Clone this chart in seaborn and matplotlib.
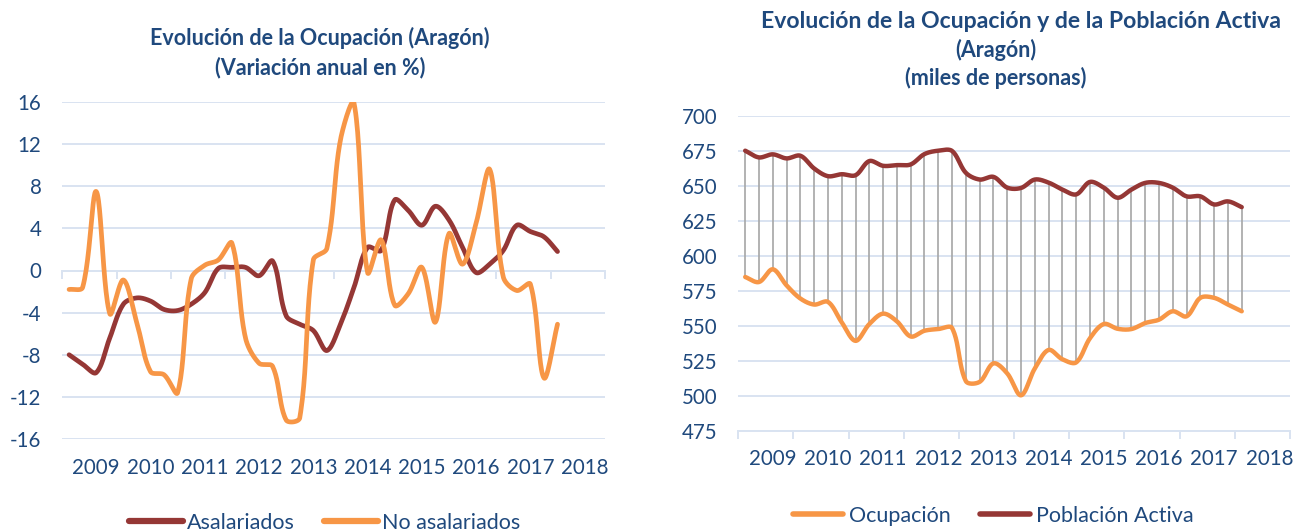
import numpy as np
import pandas as pd
import matplotlib
matplotlib.use("Agg")
import matplotlib.pyplot as plt
import seaborn as sns

# ---------------- data (quarterly) ----------------
years = ['2009', '2010', '2011', '2012', '2013', '2014', '2015', '2016', '2017', '2018']

asalariados = [-8.0, -8.9, -9.7, -6.4, -3.2, -2.6, -2.9, -3.7, -3.8, -3.2,
               -2.1, 0.2, 0.3, 0.3, -0.5, 0.9, -4.3, -5.1, -5.7, -7.6,
               -5.1, -1.6, 2.2, 1.9, 6.7, 5.7, 4.3, 6.1, 4.8, 2.2,
               -0.2, 0.6, 1.9, 4.3, 3.7, 3.2, 1.8]
no_asalariados = [-1.8, -1.6, 7.5, -4.1, -0.9, -5.0, -9.6, -9.9, -11.6, -0.8,
                  0.5, 1.0, 2.6, -6.4, -8.8, -9.1, -14.2, -14.0, 1.0, 2.1,
                  12.4, 15.9, -0.2, 2.9, -3.3, -2.2, 0.3, -4.9, 3.5, 0.6,
                  4.5, 9.6, -0.6, -1.9, -1.3, -10.2, -5.1]

ocupacion = [584.8, 581.2, 590.3, 578.8, 569.4, 565.1, 567.0, 552.4, 539.2, 551.2,
             558.6, 553.1, 542.3, 546.4, 547.6, 548.3, 510.4, 509.9, 523.1, 515.9,
             500.3, 519.5, 532.7, 526.0, 523.8, 541.1, 551.2, 547.8, 547.6, 551.9,
             554.3, 560.3, 556.7, 569.9, 569.9, 565.1, 560.3]
poblacion_activa = [675.0, 670.2, 672.4, 669.5, 671.4, 662.3, 656.8, 658.2, 657.5, 667.6,
                    664.2, 664.7, 665.2, 672.6, 675.0, 674.8, 659.2, 654.4, 656.3, 648.6,
                    648.4, 654.4, 652.2, 647.2, 643.8, 652.7, 648.6, 641.4, 647.2, 652.0,
                    652.0, 648.6, 642.4, 642.4, 636.6, 638.8, 634.7]

left_yticks = [-16, -12, -8, -4, 0, 4, 8, 12, 16]
right_yticks = [475, 500, 525, 550, 575, 600, 625, 650, 675, 700]

# ---------------- style ----------------
sns.set_theme(style="white")
FONT = ['Lato', 'DejaVu Sans']
plt.rcParams['font.family'] = FONT
TXT = '#1F497D'
RED = '#953735'
ORANGE = '#F79646'
GRID = '#D9E3F1'
DROP = '#A6A6A6'
FS = 14.8      # tick labels
FS_LEG = 15.5  # legend
FS_T = 15.5    # titles


def smooth(vals, sx, sy, n=24):
    """Excel-like smoothed line for drawing: cubic Bezier whose control
    points are scaled by the on-screen segment lengths (sx, sy = px per unit)."""
    y = np.asarray(vals, float)
    x = np.arange(len(y), dtype=float)
    P = np.column_stack([x, y])
    S = np.array([sx, sy])
    def dist(a, b):
        return np.hypot(*((a - b) * S)) + 1e-9
    out = []
    t = np.linspace(0, 1, n, endpoint=False)[:, None]
    N = len(P)
    for i in range(N - 1):
        p0 = P[i - 1] if i > 0 else P[i]
        p1, p2 = P[i], P[i + 1]
        p3 = P[i + 2] if i + 2 < N else P[i + 1]
        d01, d12, d23 = dist(p0, p1), dist(p1, p2), dist(p2, p3)
        if i == 0:
            c1 = p1 + (p2 - p1) / 3.0
        else:
            c1 = p1 + (p2 - p0) / 3.0 * d12 / (d01 + d12)
        if i + 2 >= N:
            c2 = p2 - (p2 - p1) / 3.0
        else:
            c2 = p2 - (p3 - p1) / 3.0 * d12 / (d12 + d23)
        seg = (1 - t) ** 3 * p1 + 3 * (1 - t) ** 2 * t * c1 + 3 * (1 - t) * t ** 2 * c2 + t ** 3 * p2
        out.append(seg)
    out.append(P[-1:])
    return np.vstack(out)


W, H = 1294, 532
fig = plt.figure(figsize=(W / 100, H / 100), dpi=100)

n_cat = 4 * len(years)
major = [-0.5 + 4 * k for k in range(len(years) + 1)]
label_pos = [2.0 + 4 * k for k in range(len(years))]

# ================= LEFT CHART =================
L_x0, L_x1, L_top, L_bot = 62.3, 605.0, 102.0, 439.0
axL = fig.add_axes([L_x0 / W, 1 - L_bot / H, (L_x1 - L_x0) / W, (L_bot - L_top) / H])
sxL = (L_x1 - L_x0) / n_cat
syL = (L_bot - L_top) / 32.0
for name, vals, col in [('Asalariados', asalariados, RED), ('No asalariados', no_asalariados, ORANGE)]:
    s = smooth(vals, sxL, syL)
    sns.lineplot(x=s[:, 0], y=s[:, 1], ax=axL, color=col, lw=3.4, sort=False,
                 estimator=None, label=name, zorder=3)
axL.set_xlim(-0.5, n_cat - 0.5)
axL.set_ylim(-16, 16)
axL.set_yticks(left_yticks)
axL.set_yticklabels([str(v) for v in left_yticks])
axL.yaxis.grid(True, color=GRID, lw=1.4)
axL.set_axisbelow(True)
for sp in ['left', 'right', 'top']:
    axL.spines[sp].set_visible(False)
axL.spines['bottom'].set_position(('data', 0))
axL.spines['bottom'].set_color(GRID)
axL.spines['bottom'].set_linewidth(1.4)
axL.set_xticks(major)
axL.set_xticklabels([])
axL.tick_params(axis='x', direction='out', length=6, width=1.4, color=GRID, bottom=True)
axL.tick_params(axis='y', length=0, pad=15, labelsize=FS, labelcolor=TXT)
for p, lab in zip(label_pos, years):
    axL.text(p, 1 - (468 - L_top) / (L_bot - L_top), lab, transform=axL.get_xaxis_transform(),
             ha='center', va='center', fontsize=FS, color=TXT)
hL, lL = axL.get_legend_handles_labels()
axL.get_legend().remove()
legL = fig.legend(hL, lL, loc='center', bbox_to_anchor=(324.5 / W, 1 - 523 / H), ncol=2,
                  frameon=False, fontsize=FS_LEG, handlelength=2.5, handletextpad=0.2,
                  columnspacing=1.35, labelcolor=TXT)
for ln in legL.get_lines():
    ln.set_linewidth(4.5)

fig.text(320 / W, 1 - 38 / H, 'Evolución de la Ocupación (Aragón)', ha='center', va='center',
         fontsize=FS_T, fontweight='bold', color=TXT)
fig.text(320 / W, 1 - 68 / H, '(Variación anual en %)', ha='center', va='center',
         fontsize=FS_T, fontweight='bold', color=TXT)

# ================= RIGHT CHART =================
R_x0, R_x1, R_top, R_bot = 738.3, 1290.0, 115.7, 430.7
axR = fig.add_axes([R_x0 / W, 1 - R_bot / H, (R_x1 - R_x0) / W, (R_bot - R_top) / H])
sxR = (R_x1 - R_x0) / n_cat
syR = (R_bot - R_top) / 225.0
xs = np.arange(len(ocupacion))
axR.vlines(xs, ocupacion, poblacion_activa, color=DROP, lw=1.2, zorder=2)
for name, vals, col in [('Ocupación', ocupacion, ORANGE), ('Población Activa', poblacion_activa, RED)]:
    s = smooth(vals, sxR, syR)
    sns.lineplot(x=s[:, 0], y=s[:, 1], ax=axR, color=col, lw=3.2, sort=False,
                 estimator=None, label=name, zorder=3)
axR.set_xlim(-0.5, n_cat - 0.5)
axR.set_ylim(475, 700)
axR.set_yticks(right_yticks)
axR.set_yticklabels([str(v) for v in right_yticks])
axR.yaxis.grid(True, color=GRID, lw=1.4)
axR.set_axisbelow(True)
for sp in ['left', 'right', 'top']:
    axR.spines[sp].set_visible(False)
axR.spines['bottom'].set_color(GRID)
axR.spines['bottom'].set_linewidth(1.4)
axR.set_xticks(major)
axR.set_xticklabels([])
axR.tick_params(axis='x', direction='out', length=6, width=1.4, color=GRID, bottom=True)
axR.tick_params(axis='y', length=0, pad=15, labelsize=FS, labelcolor=TXT)
for p, lab in zip(label_pos, years):
    axR.text(p, -(459 - R_bot) / (R_bot - R_top), lab, transform=axR.get_xaxis_transform(),
             ha='center', va='center', fontsize=FS, color=TXT)
hR, lR = axR.get_legend_handles_labels()
axR.get_legend().remove()
legR = fig.legend(hR, lR, loc='center', bbox_to_anchor=(993.5 / W, 1 - 516 / H), ncol=2,
                  frameon=False, fontsize=FS_LEG, handlelength=2.3, handletextpad=0.3,
                  columnspacing=1.35, labelcolor=TXT)
for ln in legR.get_lines():
    ln.set_linewidth(4.0)

fig.text(1021 / W, 1 - 22 / H, 'Evolución de la Ocupación y de la Población Activa', ha='center',
         va='center', fontsize=16.6, fontweight='bold', color=TXT)
fig.text(996 / W, 1 - 50 / H, '(Aragón)', ha='center', va='center',
         fontsize=FS_T, fontweight='bold', color=TXT)
fig.text(996 / W, 1 - 78 / H, '(miles de personas)', ha='center', va='center',
         fontsize=FS_T, fontweight='bold', color=TXT)

fig.savefig('out.png', dpi=100, facecolor='white')
